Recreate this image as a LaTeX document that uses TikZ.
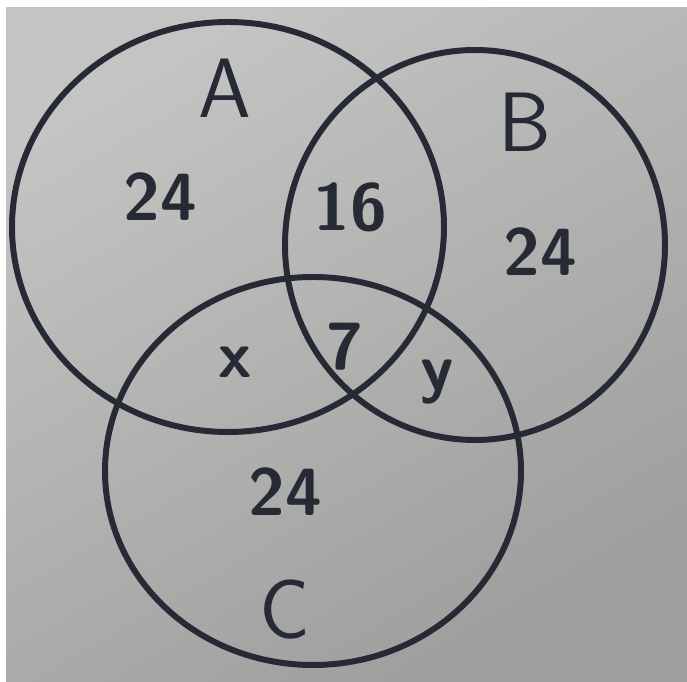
\documentclass[tikz,border=0pt]{standalone}
\usetikzlibrary{calc}
\definecolor{PaperLight}{RGB}{196,196,194}
\definecolor{PaperDark}{RGB}{158,158,156}
\definecolor{InkClr}{RGB}{38,42,52}

\begin{document}
\begin{tikzpicture}[x=0.02cm,y=-0.02cm,
  ring/.style={line width=3.4pt,color=InkClr},
  setlabel/.style={text=InkClr,font=\sffamily\fontsize{48}{48}\selectfont},
  count/.style={text=InkClr,font=\sffamily\bfseries\fontsize{38}{38}\selectfont}]
\useasboundingbox (0,0) rectangle (687,682);
\fill[white] (0,0) rectangle (687,682);
\shade[top color=PaperLight,bottom color=PaperDark,shading angle=30]
  (6,8) rectangle (687,682);

% centres of the three sets
\coordinate (cA) at (228,227);
\coordinate (cB) at (475,245);
\coordinate (cC) at (313,471);

\draw[ring] (cA) ellipse [x radius=216,y radius=205];
\draw[ring] (cB) ellipse [x radius=190,y radius=195];
\draw[ring] (cC) ellipse [x radius=208,y radius=194];

\node[setlabel] (lA) at (225,88) {A};
\node[setlabel] (lB) at (525,122) {B};
\node[setlabel] (lC) at (285,610) {C};

\node[count] (onlyA) at (160,197) {24};
\node[count] (AB) at (350,207) {16};
\node[count] (onlyB) at (540,252) {24};
\node[count] (AC) at (235,362) {x};
\node[count] (ABC) at (345,347) {7};
\node[count] (BC) at (437,382) {y};
\node[count] (onlyC) at (285,492) {24};

\end{tikzpicture}
\end{document}
